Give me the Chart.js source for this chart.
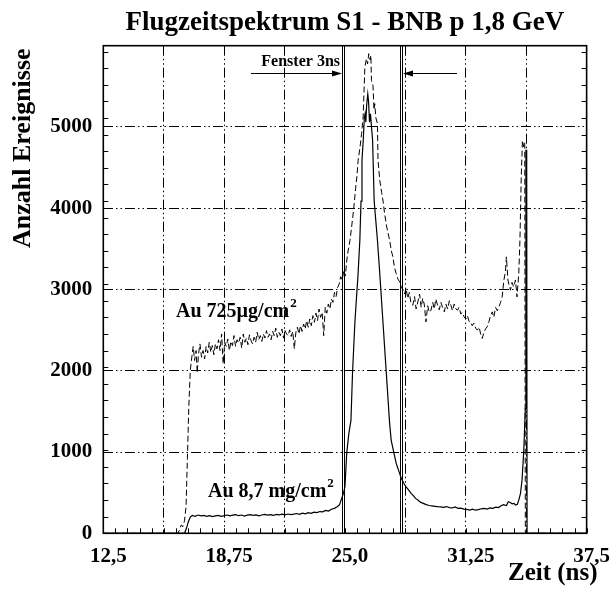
<!DOCTYPE html>
<html>
<head>
<meta charset="utf-8">
<script src="https://cdn.jsdelivr.net/npm/chart.js@4"></script>
<style>
  body { margin: 0; background: #fff; }
  #wrap { width: 616px; height: 592px; }
</style>
</head>
<body>
<div id="wrap"><canvas id="tof" width="616" height="592"></canvas></div>
<script>
// Achsen
const xMin = 12.5, xMax = 37.5, xStep = 3.125;
const yMin = 0, yMax = 5870, yStep = 1000;
const xTickLabels = ['12,5', '18,75', '25,0', '31,25', '37,5'];
const yTickLabels = ['0', '1000', '2000', '3000', '4000', '5000'];

// Au 8,7 mg/cm2 (durchgezogen)
const dickZeit = [12.5, 16.70, 16.80, 16.90, 17.00, 17.10, 17.25, 17.40, 17.55, 17.70, 17.85, 18.00, 18.15, 18.30, 18.45, 18.60, 18.75, 18.90, 19.05, 19.20, 19.35, 19.50, 19.65, 19.80, 19.95, 20.10, 20.25, 20.40, 20.55, 20.70, 20.85, 21.00, 21.15, 21.30, 21.45, 21.60, 21.75, 21.90, 22.05, 22.20, 22.35, 22.50, 22.65, 22.80, 22.95, 23.10, 23.25, 23.40, 23.55, 23.70, 23.85, 24.00, 24.15, 24.30, 24.45, 24.60, 24.72, 24.83, 24.92, 25.00, 25.09, 25.20, 25.31, 25.39, 25.51, 25.60, 25.68, 25.77, 25.83, 25.88, 25.95, 26.00, 26.04, 26.08, 26.12, 26.18, 26.22, 26.27, 26.32, 26.37, 26.43, 26.51, 26.60, 26.68, 26.80, 26.97, 27.14, 27.31, 27.39, 27.50, 27.65, 27.80, 27.91, 28.05, 28.16, 28.30, 28.42, 28.55, 28.65, 28.77, 28.90, 29.05, 29.20, 29.35, 29.50, 29.65, 29.80, 29.95, 30.10, 30.25, 30.40, 30.55, 30.70, 30.85, 31.00, 31.15, 31.30, 31.45, 31.60, 31.75, 31.90, 32.05, 32.20, 32.35, 32.50, 32.65, 32.80, 32.95, 33.05, 33.20, 33.35, 33.45, 33.55, 33.65, 33.75, 33.82, 33.92, 33.99, 34.08, 34.16, 34.25, 34.33, 34.36, 34.40, 34.42, 37.5];
const dickAnzahl = [0, 0, 60, 140, 195, 215, 205, 220, 210, 215, 205, 212, 200, 210, 215, 205, 212, 220, 210, 218, 225, 212, 220, 208, 218, 225, 215, 222, 210, 220, 228, 218, 225, 215, 228, 222, 230, 222, 232, 225, 230, 238, 228, 242, 235, 248, 240, 255, 250, 262, 258, 275, 268, 290, 300, 320, 345, 420, 480, 560, 960, 1200, 1360, 1925, 2526, 2850, 3128, 3528, 4000, 4490, 4750, 5000, 5050, 4950, 5150, 5290, 5200, 4950, 5050, 4900, 4731, 4000, 3750, 3528, 3128, 2526, 1925, 1323, 1122, 1000, 842, 740, 662, 600, 560, 520, 481, 450, 420, 400, 375, 360, 345, 335, 330, 325, 320, 318, 312, 322, 310, 305, 318, 300, 302, 292, 288, 280, 290, 278, 285, 295, 300, 292, 305, 300, 315, 310, 328, 345, 335, 380, 370, 355, 360, 340, 350, 400, 480, 641, 1000, 1500, 4610, 4610, 0, 0];

// Au 725 µg/cm2 (gestrichelt)
const duennZeit = [12.5, 16.34, 16.45, 16.53, 16.62, 16.70, 16.78, 16.85, 16.92, 17.00, 17.08, 17.15, 17.22, 17.30, 17.36, 17.42, 17.50, 17.58, 17.66, 17.74, 17.82, 17.90, 17.98, 18.06, 18.14, 18.22, 18.30, 18.38, 18.46, 18.54, 18.62, 18.70, 18.78, 18.86, 18.94, 19.02, 19.10, 19.18, 19.26, 19.34, 19.42, 19.50, 19.58, 19.66, 19.74, 19.82, 19.90, 19.98, 20.06, 20.14, 20.22, 20.30, 20.38, 20.46, 20.54, 20.62, 20.70, 20.78, 20.86, 20.94, 21.02, 21.10, 21.18, 21.26, 21.34, 21.42, 21.50, 21.58, 21.66, 21.74, 21.82, 21.90, 21.98, 22.06, 22.14, 22.22, 22.30, 22.38, 22.46, 22.54, 22.62, 22.70, 22.78, 22.86, 22.94, 23.02, 23.10, 23.18, 23.26, 23.34, 23.42, 23.50, 23.58, 23.66, 23.74, 23.82, 23.90, 23.98, 24.06, 24.14, 24.22, 24.30, 24.38, 24.46, 24.54, 24.62, 24.70, 24.78, 24.86, 24.94, 25.02, 25.10, 25.17, 25.26, 25.35, 25.45, 25.55, 25.62, 25.68, 25.78, 25.86, 25.94, 26.03, 26.11, 26.17, 26.23, 26.30, 26.34, 26.37, 26.45, 26.50, 26.54, 26.60, 26.68, 26.71, 26.80, 26.90, 26.97, 27.05, 27.15, 27.31, 27.40, 27.48, 27.56, 27.65, 27.74, 27.83, 27.91, 27.99, 28.08, 28.16, 28.25, 28.33, 28.42, 28.51, 28.60, 28.68, 28.77, 28.86, 28.94, 29.02, 29.10, 29.19, 29.28, 29.36, 29.45, 29.54, 29.62, 29.70, 29.79, 29.88, 29.96, 30.05, 30.14, 30.22, 30.31, 30.40, 30.48, 30.56, 30.65, 30.74, 30.82, 30.90, 30.99, 31.08, 31.16, 31.25, 31.33, 31.42, 31.50, 31.58, 31.67, 31.76, 31.85, 31.94, 32.02, 32.10, 32.19, 32.27, 32.36, 32.45, 32.53, 32.62, 32.70, 32.79, 32.88, 32.96, 33.05, 33.13, 33.22, 33.30, 33.35, 33.43, 33.50, 33.56, 33.64, 33.73, 33.82, 33.90, 33.99, 34.05, 34.12, 34.18, 34.25, 34.30, 34.33, 37.5];
const duennAnzahl = [0, 0, 40, 100, 80, 150, 320, 900, 1500, 1965, 2124, 2250, 2080, 2200, 1930, 2150, 2280, 2120, 2200, 2100, 2250, 2170, 2300, 2180, 2260, 2150, 2280, 2220, 2330, 2200, 2400, 2040, 2300, 2250, 2340, 2200, 2310, 2260, 2380, 2250, 2330, 2290, 2360, 2230, 2400, 2300, 2350, 2270, 2390, 2320, 2280, 2360, 2300, 2420, 2330, 2380, 2310, 2400, 2350, 2440, 2360, 2400, 2330, 2430, 2380, 2470, 2360, 2420, 2380, 2460, 2350, 2440, 2400, 2380, 2450, 2370, 2430, 2220, 2420, 2480, 2400, 2500, 2430, 2520, 2460, 2560, 2480, 2580, 2500, 2620, 2540, 2650, 2560, 2700, 2600, 2660, 2380, 2720, 2650, 2760, 2700, 2820, 2780, 2900, 2850, 2960, 3000, 3090, 3050, 3170, 3100, 3300, 3408, 3528, 3700, 3900, 4150, 4300, 4490, 4650, 4812, 5012, 5613, 5714, 5650, 5774, 5700, 5754, 5453, 5393, 5100, 5173, 5000, 4932, 4490, 4250, 4100, 4000, 3850, 3700, 3528, 3400, 3328, 3200, 3128, 3060, 3027, 2970, 2927, 2880, 2950, 2827, 2900, 2760, 2746, 2850, 2700, 2786, 2880, 2720, 2827, 2760, 2546, 2740, 2660, 2686, 2780, 2700, 2820, 2746, 2690, 2780, 2720, 2666, 2760, 2700, 2800, 2746, 2680, 2760, 2700, 2686, 2720, 2640, 2660, 2606, 2580, 2620, 2550, 2546, 2500, 2530, 2470, 2446, 2480, 2400, 2346, 2420, 2460, 2486, 2550, 2620, 2666, 2600, 2720, 2680, 2726, 2780, 2846, 3047, 3150, 3328, 3047, 2980, 2927, 3020, 2967, 3050, 2846, 3128, 3528, 4300, 4730, 4650, 4700, 0, 0];

// Zeitfenster 3 ns
const fensterGrenzen = [24.9, 27.9];

const serif = '"Liberation Serif", "Times New Roman", serif';

function punkte(xs, ys) {
  return xs.map((x, i) => ({ x: x, y: ys[i] }));
}

// Rahmen, Nebenstriche, Fenster, Beschriftung
const zusatz = {
  id: 'zusatz',
  afterDatasetsDraw(chart) {
    const { ctx, chartArea: a, scales: { x, y } } = chart;
    ctx.save();
    ctx.strokeStyle = '#000';
    ctx.fillStyle = '#000';

    // Nebenstriche
    ctx.lineWidth = 1;
    ctx.beginPath();
    for (let v = yMin; v <= yMax; v += 200) {
      const py = Math.round(y.getPixelForValue(v)) + 0.5;
      ctx.moveTo(a.left, py); ctx.lineTo(a.left + 5, py);
      ctx.moveTo(a.right, py); ctx.lineTo(a.right - 5, py);
    }
    for (let v = xMin; v <= xMax; v += 0.625) {
      const px = Math.round(x.getPixelForValue(v)) + 0.5;
      ctx.moveTo(px, a.bottom); ctx.lineTo(px, a.bottom - 5);
    }
    ctx.stroke();

    // Fenstergrenzen (Doppellinie)
    ctx.lineWidth = 1;
    fensterGrenzen.forEach(v => {
      const px = Math.round(x.getPixelForValue(v));
      ctx.beginPath();
      ctx.moveTo(px - 0.5, a.top); ctx.lineTo(px - 0.5, a.bottom);
      ctx.moveTo(px + 1.5, a.top); ctx.lineTo(px + 1.5, a.bottom);
      ctx.stroke();
    });

    // Pfeile
    const pfeil = (x0, x1, py) => {
      const dir = Math.sign(x1 - x0);
      ctx.beginPath();
      ctx.moveTo(x0, py); ctx.lineTo(x1 - dir * 8, py);
      ctx.stroke();
      ctx.beginPath();
      ctx.moveTo(x1, py);
      ctx.lineTo(x1 - dir * 10, py - 3);
      ctx.lineTo(x1 - dir * 10, py + 3);
      ctx.closePath();
      ctx.fill();
    };
    const lx = Math.round(x.getPixelForValue(fensterGrenzen[0]));
    const rx = Math.round(x.getPixelForValue(fensterGrenzen[1]));
    pfeil(251, lx - 1, 73.5);
    pfeil(457, rx + 2, 73.5);

    // Rahmen
    ctx.lineWidth = 1.6;
    ctx.strokeRect(a.left, a.top, a.right - a.left, a.bottom - a.top);

    // Texte
    ctx.textBaseline = 'alphabetic';
    ctx.textAlign = 'center';
    ctx.font = 'bold 27px ' + serif;
    ctx.fillText('Flugzeitspektrum S1 - BNB p 1,8 GeV', (a.left + a.right) / 2, 30);

    ctx.textAlign = 'right';
    ctx.font = 'bold 16px ' + serif;
    ctx.fillText('Fenster 3ns', lx - 3, 66);

    ctx.textAlign = 'left';
    const mitHoch = (txt, px, py) => {
      ctx.font = 'bold 20px ' + serif;
      ctx.fillText(txt, px, py);
      const w = ctx.measureText(txt).width;
      ctx.font = 'bold 13px ' + serif;
      ctx.fillText('2', px + w + 1, py - 10);
    };
    mitHoch('Au 725µg/cm', 176, 317);
    mitHoch('Au 8,7 mg/cm', 208, 497);

    ctx.font = 'bold 25px ' + serif;
    ctx.fillText('Zeit (ns)', 508, 580);

    ctx.translate(30, 248);
    ctx.rotate(-Math.PI / 2);
    ctx.font = 'bold 26px ' + serif;
    ctx.fillText('Anzahl Ereignisse', 0, 0);
    ctx.restore();
  }
};

const gitterStrich = [10, 3, 1.5, 3, 1.5, 3];

new Chart(document.getElementById('tof'), {
  type: 'line',
  data: {
    datasets: [
      {
        label: 'Au 8,7 mg/cm2',
        data: punkte(dickZeit, dickAnzahl),
        borderColor: '#000',
        borderWidth: 1.2,
        pointRadius: 0,
        tension: 0
      },
      {
        label: 'Au 725 µg/cm2',
        data: punkte(duennZeit, duennAnzahl),
        borderColor: '#000',
        borderWidth: 1,
        borderDash: [6, 3],
        pointRadius: 0,
        tension: 0
      }
    ]
  },
  options: {
    responsive: false,
    animation: false,
    layout: { padding: { top: 45.7, right: 24.5, left: 0, bottom: 0 } },
    plugins: { legend: { display: false }, tooltip: { enabled: false }, title: { display: false } },
    scales: {
      x: {
        type: 'linear',
        min: xMin,
        max: xMax,
        afterFit: s => { s.height = 58.7; },
        grid: { color: '#000', lineWidth: 1, drawTicks: false },
        border: { display: false, dash: gitterStrich },
        ticks: {
          stepSize: xStep,
          autoSkip: false,
          maxRotation: 0,
          includeBounds: false,
          labelOffset: 5,
          padding: 11,
          color: '#000',
          font: { family: serif, size: 21, weight: 'bold' },
          callback: (v, i) => (i % 2 === 0 ? xTickLabels[i / 2] : '')
        }
      },
      y: {
        min: yMin,
        max: yMax,
        afterFit: s => { s.width = 103.3; },
        grid: { color: '#000', lineWidth: 1, drawTicks: false },
        border: { display: false, dash: gitterStrich },
        ticks: {
          stepSize: yStep,
          includeBounds: false,
          padding: 11,
          color: '#000',
          font: { family: serif, size: 21, weight: 'bold' },
          callback: (v, i) => yTickLabels[i]
        }
      }
    }
  },
  plugins: [zusatz]
});
</script>
</body>
</html>
